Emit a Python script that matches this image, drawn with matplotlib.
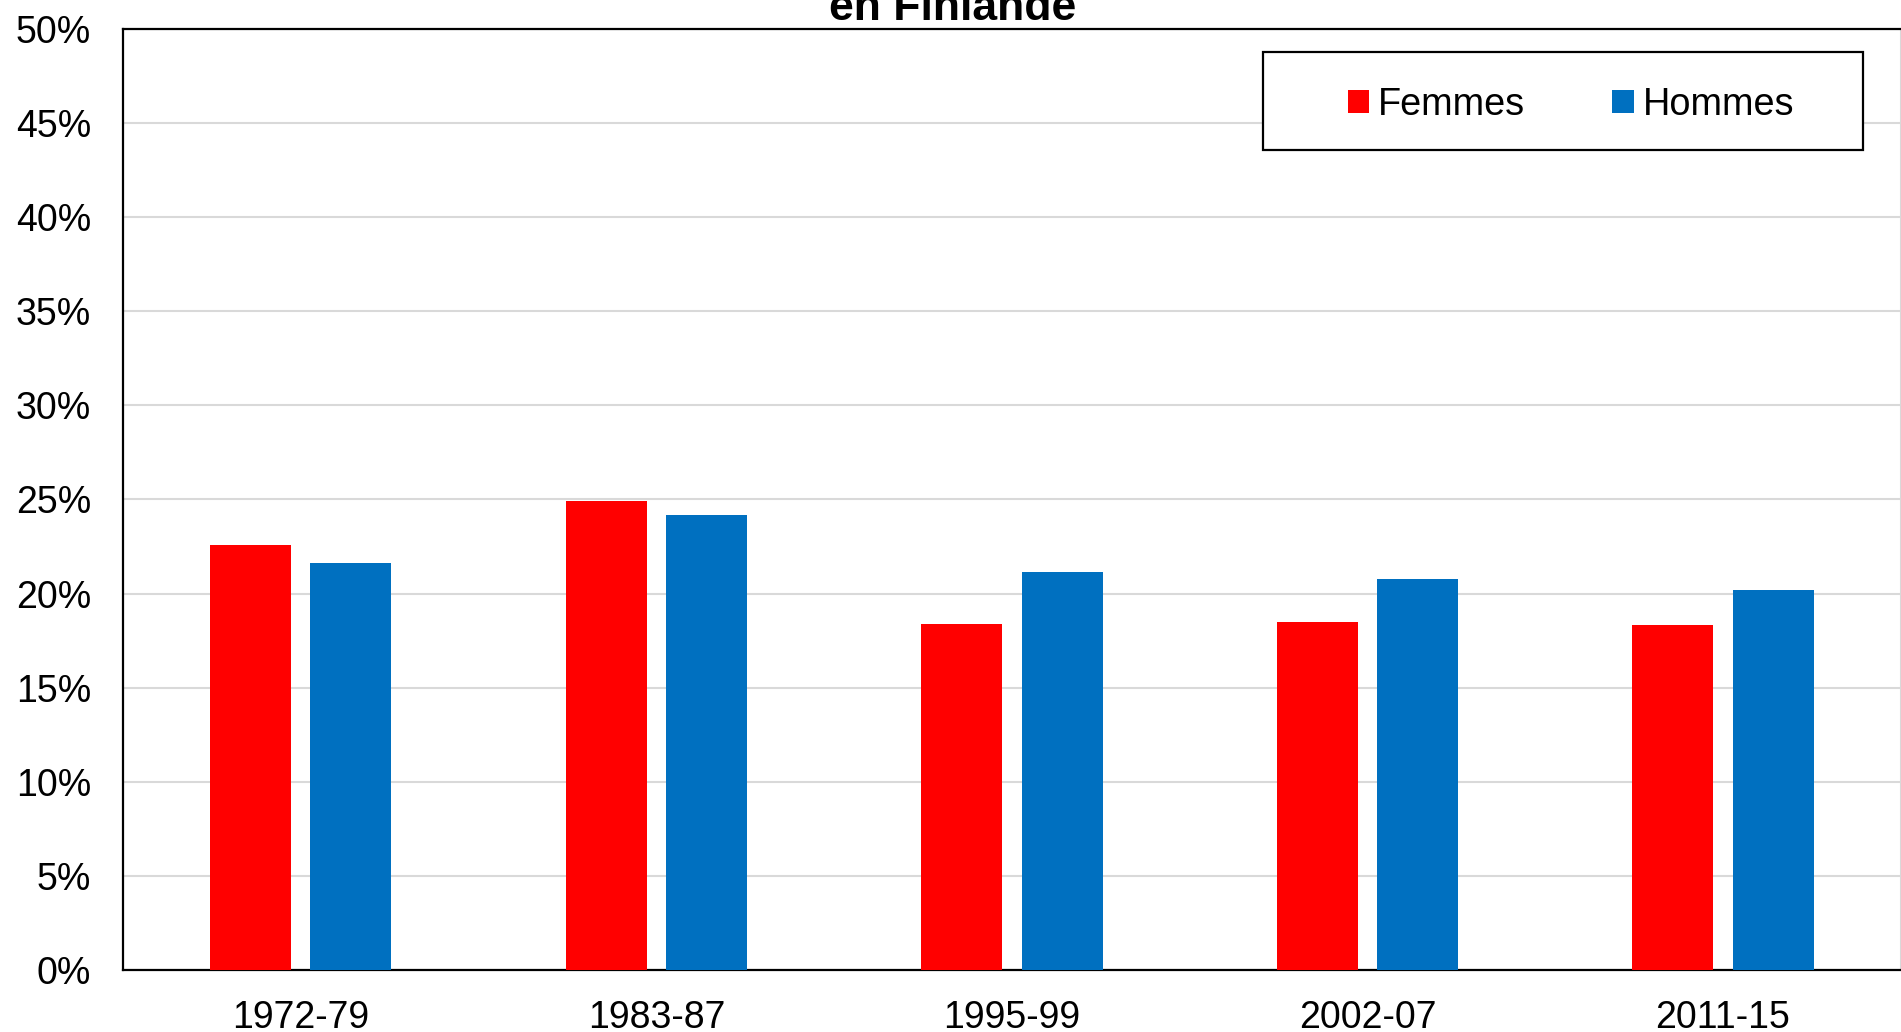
import numpy as np
import matplotlib.pyplot as plt
from matplotlib.patches import Rectangle
from matplotlib.ticker import PercentFormatter

# data -------------------------------------------------------------------
periodes = ['1972-79', '1983-87', '1995-99', '2002-07', '2011-15']
femmes = [22.6, 24.9, 18.4, 18.5, 18.35]
hommes = [21.65, 24.2, 21.15, 20.8, 20.2]

rouge = '#FF0000'
bleu = '#0070C0'

# figure -----------------------------------------------------------------
plt.rcParams['font.family'] = ['Liberation Sans', 'DejaVu Sans']
fig = plt.figure(figsize=(19.01, 10.32), dpi=100)
ax = fig.add_axes([0.0647, 0.0601, 0.9352, 0.9118])

x = np.arange(len(periodes))
w = 0.228
ax.bar(x - 0.141, femmes, w, color=rouge, label='Femmes', zorder=3)
ax.bar(x + 0.141, hommes, w, color=bleu, label='Hommes', zorder=3)

ax.set_xlim(-0.5, len(periodes) - 0.5)
ax.set_ylim(0, 50)
ax.set_yticks(np.arange(0, 51, 5))
ax.yaxis.set_major_formatter(PercentFormatter(decimals=0))
ax.set_xticks(x)
ax.set_xticklabels(periodes)
ax.tick_params(axis='both', length=0, labelsize=27)
ax.tick_params(axis='y', pad=23)
ax.tick_params(axis='x', pad=21.5)

ax.grid(axis='y', color='#d9d9d9', linewidth=1.5, zorder=0)
for s in ['left', 'bottom', 'top']:
    ax.spines[s].set_linewidth(1.6)
    ax.spines[s].set_color('black')
ax.spines['right'].set_color('#d9d9d9')
ax.spines['right'].set_linewidth(1.5)

# title (second line only, first line is above the top edge)
fig.text(953 / 1901, 1 - 20 / 1032, 'en Finlande', ha='center', va='baseline',
         fontsize=32, fontweight='bold')

# legend with its own box
box = Rectangle((1263 / 1901, 1 - 150 / 1032), (1863 - 1263) / 1901, 98 / 1032,
                transform=fig.transFigure, facecolor='white', edgecolor='black',
                linewidth=1.6, zorder=5, clip_on=False)
ax.add_patch(box)
leg = ax.legend(loc='center', bbox_to_anchor=(1571 / 1901, 1 - 105 / 1032),
                bbox_transform=fig.transFigure, ncol=2, frameon=False,
                fontsize=27.3, handlelength=0.57, handleheight=0.57,
                handletextpad=0.23, columnspacing=2.3)
leg.set_zorder(6)

fig.savefig('out.png', dpi=100)
